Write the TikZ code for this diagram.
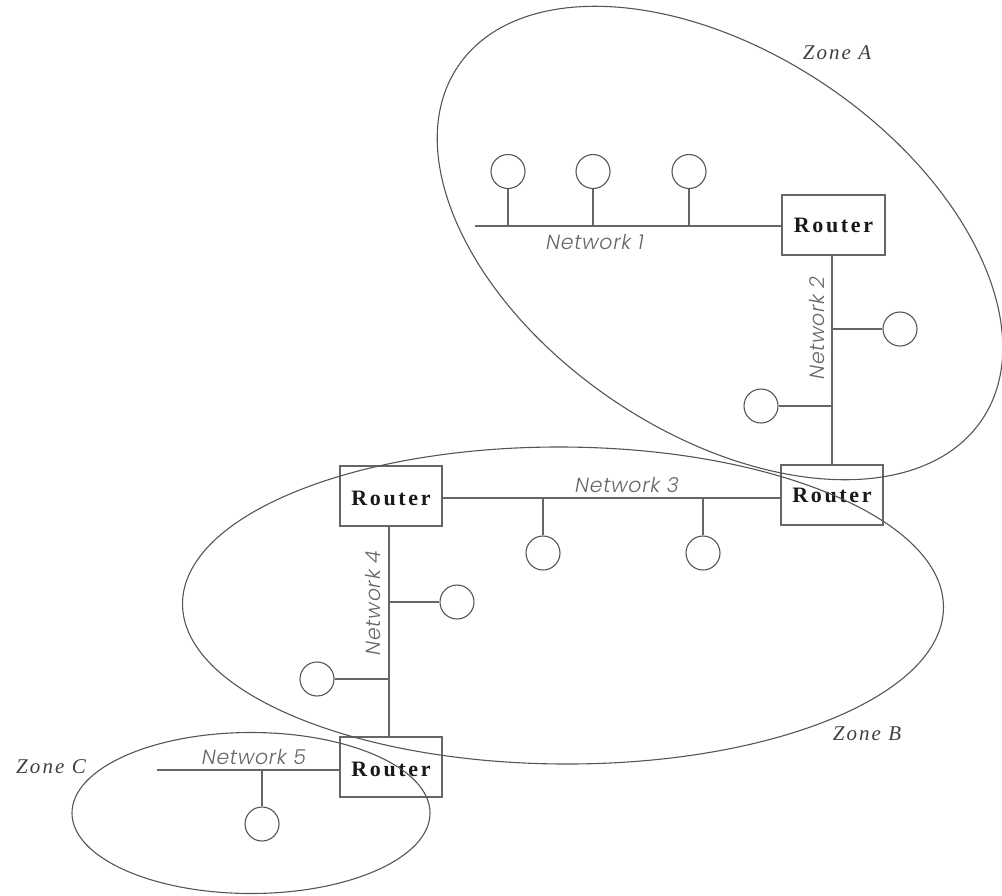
\documentclass[tikz,border=0pt]{standalone}
\usepackage{fontspec}
\usetikzlibrary{shapes.geometric}
\newfontfamily\netfont[ItalicFont={Poppins Light Italic},LetterSpace=3]{Poppins Light}
\newfontfamily\zonefont[LetterSpace=10]{Liberation Serif}
\newfontfamily\routerfont[LetterSpace=12]{Liberation Serif}
\definecolor{ink}{HTML}{666666}
\definecolor{zoneink}{HTML}{555555}
\tikzset{
  wire/.style={draw=ink,line width=1.4pt},
  zone/.style={ellipse,draw=zoneink,line width=1.1pt,inner sep=0pt},
  router/.style={rectangle,draw=ink,line width=1.4pt,minimum width=102pt,minimum height=60pt,inner sep=0pt,text=black!90,text height=18pt,text depth=0pt,font=\routerfont\bfseries\fontsize{22}{24}\selectfont},
  host/.style={circle,draw=zoneink,line width=1.1pt,minimum size=34pt,inner sep=0pt},
  netlabel/.style={text=ink,inner sep=0pt,font=\netfont\itshape\fontsize{20.5}{24}\selectfont},
  zonelabel/.style={text=black!75,inner sep=0pt,font=\zonefont\itshape\fontsize{21}{24}\selectfont}
}
\begin{document}
\begin{tikzpicture}[x=1pt,y=-1pt]
\useasboundingbox (0,0) rectangle (1002,895);
% routers
\node[router,minimum width=103pt,text height=14.5pt] (r1) at (833.5,225) {Router};
\node[router,text height=15pt] (r2) at (832,495) {Router};
\node[router] (r3) at (391,496) {Router};
\node[router] (r4) at (391,767) {Router};
% hosts
\node[host] (h1) at (508,171.5) {};
\node[host] (h2) at (593,171.5) {};
\node[host] (h3) at (689,171.5) {};
\node[host] (h4) at (900,329) {};
\node[host] (h5) at (761,406) {};
\node[host] (h6) at (543,553) {};
\node[host] (h7) at (703,553) {};
\node[host] (h8) at (457,602) {};
\node[host] (h9) at (317,679) {};
\node[host] (h10) at (262,824) {};
% free ends and bus lines
\coordinate (n1end) at (475,226);
\coordinate (n2x) at (832,0);
\coordinate (n3y) at (0,498);
\coordinate (n4x) at (389,0);
\coordinate (n5end) at (157,770);
\draw[wire] (n1end) -- (n1end-|r1.west);
\draw[wire] (n2x|-r1.south) -- (n2x|-r2.north);
\draw[wire] (r3.east|-n3y) -- (r2.west|-n3y);
\draw[wire] (n4x|-r3.south) -- (n4x|-r4.north);
\draw[wire] (n5end) -- (n5end-|r4.west);
% stubs
\draw[wire] (h1) -- (h1|-n1end);
\draw[wire] (h2) -- (h2|-n1end);
\draw[wire] (h3) -- (h3|-n1end);
\draw[wire] (h4) -- (h4-|n2x);
\draw[wire] (h5) -- (h5-|n2x);
\draw[wire] (h6) -- (h6|-n3y);
\draw[wire] (h7) -- (h7|-n3y);
\draw[wire] (h8) -- (h8-|n4x);
\draw[wire] (h9) -- (h9-|n4x);
\draw[wire] (h10) -- (h10|-n5end);
% zones
\node[zone,minimum width=632pt,minimum height=380pt,rotate=-34] (za) at (720,243) {};
\node[zone,minimum width=761pt,minimum height=317pt,rotate=-0.3] (zb) at (563,605.5) {};
\node[zone,minimum width=358pt,minimum height=161pt] (zc) at (251,813) {};
% labels
\node[zonelabel] (la) at (837,53) {Zone A};
\node[zonelabel] (lb) at (867,734) {Zone B};
\node[zonelabel] (lc) at (51,767) {Zone C};
\node[netlabel] (n1) at (595,242) {Network 1};
\node[netlabel,rotate=90] (n2) at (817,328) {Network 2};
\node[netlabel] (n3) at (627,485) {Network 3};
\node[netlabel,rotate=90] (n4) at (373,603) {Network 4};
\node[netlabel] (n5) at (254,757) {Network 5};
\end{tikzpicture}
\end{document}
